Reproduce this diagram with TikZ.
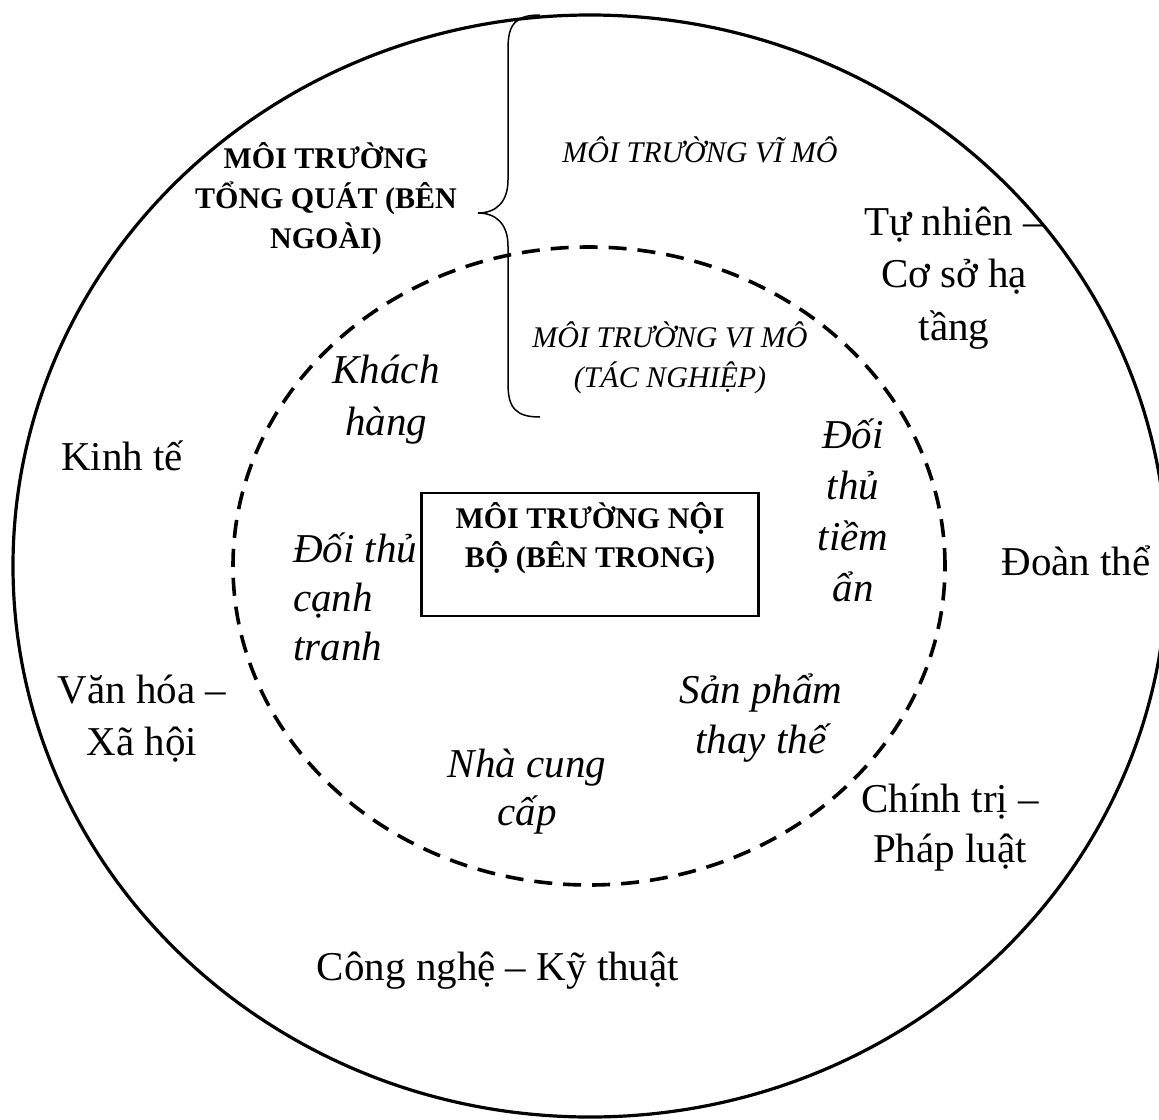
\documentclass[tikz,border=0pt]{standalone}
\usepackage{fontspec}
\setmainfont{Liberation Serif}
\usepackage{tikz}
\usetikzlibrary{positioning}

\begin{document}
\begin{tikzpicture}[
        x=1pt, y=-1pt,
        outer/.style={draw, line width=3.2pt},
        inner/.style={draw, line width=3.6pt, dash pattern=on 18pt off 11pt},
        curly/.style={draw, line width=1.5pt},
        box/.style={rectangle, draw, line width=2.8pt, minimum width=337pt, inner ysep=9pt, text height=65pt, text depth=40pt, align=center, font=\bfseries\fontsize{30}{39}\selectfont},
        head/.style={align=center, inner sep=0pt, font=\bfseries\fontsize{30}{40}\selectfont},
        small/.style={align=center, inner sep=0pt, font=\itshape\fontsize{30}{40}\selectfont},
        word/.style={align=center, inner sep=0pt, font=\fontsize{41}{52}\selectfont},
        iword/.style={align=center, inner sep=0pt, font=\itshape\fontsize{41}{50}\selectfont}
    ]
    \useasboundingbox (0,0) rectangle (1159,1119);

    % vong ngoai va vong trong
    \draw[outer] (590,566) ellipse [x radius=577pt, y radius=551pt];
    \draw[inner] (589,566) ellipse [x radius=356pt, y radius=319pt];

    % ngoac nhon
    \draw[curly] (540,15) .. controls (516,15) and (508,24) .. (508,48) -- (508,180)
        .. controls (508,202) and (496,213) .. (478,213)
        .. controls (496,213) and (508,224) .. (508,246) -- (508,384)
        .. controls (508,408) and (516,417) .. (540,417);

    \node[box, anchor=base] (noibo) at (590,567) {MÔI TRƯỜNG NỘI\\BỘ (BÊN TRONG)};

    \node[head, anchor=base] (tongquat) at (326,248) {MÔI TRƯỜNG\\TỔNG QUÁT (BÊN\\NGOÀI)};
    \node[small, anchor=base] (vimo1) at (700,162) {MÔI TRƯỜNG VĨ MÔ};
    \node[small, anchor=base] (vimo2) at (670,387) {MÔI TRƯỜNG VI MÔ\\(TÁC NGHIỆP)};

    % moi truong vi mo
    \node[iword, anchor=base, font=\itshape\fontsize{41}{52}\selectfont] (khach) at (386,435) {Khách\\hàng};
    \node[iword, anchor=base, font=\itshape\fontsize{41}{51}\selectfont] (tiemnang) at (853,601) {Đối\\thủ\\tiềm\\ẩn};
    \node[iword, anchor=base west, align=left, font=\itshape\fontsize{41}{49}\selectfont] (canhtranh) at (293,660) {Đối thủ\\cạnh\\tranh};
    \node[iword, anchor=base] (thaythe) at (761,753) {Sản phẩm\\thay thế};
    \node[iword, anchor=base, font=\itshape\fontsize{41}{48}\selectfont] (cungcap) at (527,825) {Nhà cung\\cấp};

    % moi truong vi mo
    \node[word, anchor=base, font=\fontsize{41}{52.5}\selectfont] (tunhien) at (954,340) {Tự nhiên –\\Cơ sở hạ\\tầng};
    \node[word, anchor=base] (kinhte) at (122,470) {Kinh tế};
    \node[word, anchor=base] (doanthe) at (1076,575) {Đoàn thể};
    \node[word, anchor=base] (vanhoa) at (142,755) {Văn hóa –\\Xã hội};
    \node[word, anchor=base, font=\fontsize{41}{50}\selectfont] (chinhtri) at (950,862) {Chính trị –\\Pháp luật};
    \node[word, anchor=base] (congnghe) at (498,980) {Công nghệ – Kỹ thuật};

\end{tikzpicture}
\end{document}
